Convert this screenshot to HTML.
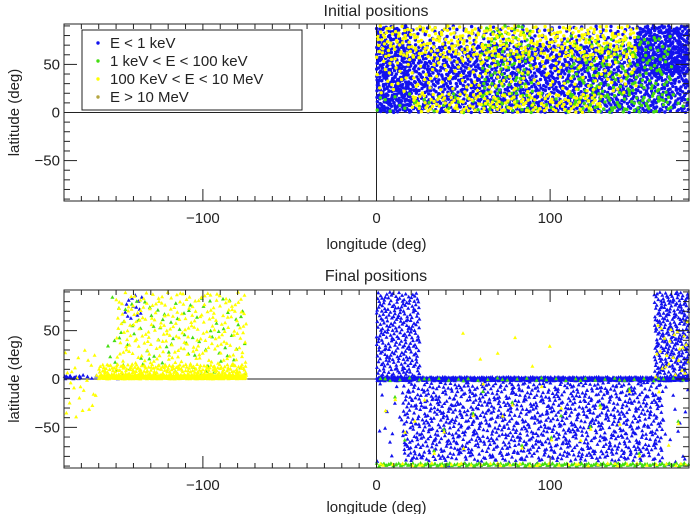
<!DOCTYPE html>
<html><head><meta charset="utf-8">
<style>
html,body{margin:0;padding:0;background:#fff;}
svg{display:block;font-family:"Liberation Sans",sans-serif;}
text{fill:#222;}
</style></head>
<body>
<svg id="chart" width="690" height="514" viewBox="0 0 690 514">
<text x="376" y="16" font-size="16" text-anchor="middle">Initial positions</text>
<text x="376" y="281" font-size="16" text-anchor="middle">Final positions</text>
<g id="top"></g>
<g id="bot"></g>
</svg>
<script>
// Series as density regions: [lonStart, lonEnd, latStart, latEnd, pointCount]
const seriesNames = ["E < 1 keV","1 keV < E < 100 keV","100 KeV < E < 10 MeV","E > 10 MeV"];
const seriesColors = ["#1212ee","#44dd11","#ffff00","#b5a642"];
const xTicks = [-100,0,100];
const yTicks = [-50,0,50];

const initBlue = [[0,180,0,70,1900],[0,180,70,90,200],[150,180,40,90,260],[0,20,0,90,180]];
const initGreen = [[60,90,0,90,110],[110,170,0,80,200],[0,180,0,20,70]];
const initYellow = [[0,150,55,90,380],[0,150,20,55,140],[20,130,0,20,160]];

const finBlue = [[0,25,0,90,260],[160,180,0,90,260],[0,180,-2,2,650],[15,165,-85,-3,1050],[0,180,-90,-3,150],[-180,-170,0,3,15],[-145,-135,60,88,14],[-180,-140,0,4,14]];
const finGreen = [[0,180,-90,-87,220],[-155,-75,0,85,90],[0,180,-2,1,40],[0,180,-80,-5,15]];
const finYellow = [[-160,-75,0,4,420],[-160,-75,4,15,200],[-150,-75,15,90,240],[-180,-160,-40,30,25],[0,180,-90,-87,40],[160,180,0,60,25],[0,180,-80,-5,25],[30,110,10,50,6]];

const NS="http://www.w3.org/2000/svg";
function mk(tag,attrs,parent){const e=document.createElementNS(NS,tag);for(const k in attrs)e.setAttribute(k,attrs[k]);parent.appendChild(e);return e;}
function halton(i,b){let f=1,r=0;while(i>0){f/=b;r+=f*(i%b);i=Math.floor(i/b);}return r;}

function makeAxes(g,top,bot,left,right,xlabelY){
  const xs=v=>left+(v+180)/360*(right-left);
  const ys=v=>(top+bot)/2-v/92*(bot-top)/2;
  let l=mk('line',{x1:left,x2:right,y1:ys(0),y2:ys(0),stroke:'#222','stroke-width':1},g);
  
  l=mk('line',{x1:xs(0),x2:xs(0),y1:top,y2:bot,stroke:'#222','stroke-width':1},g);
  
  return {xs,ys,finish(){
    const r=mk('rect',{x:left,y:top,width:right-left,height:bot-top,fill:'none',stroke:'#222','stroke-width':1},g);
    
    for(let v=-180;v<=180;v+=10){const len=v%100===0?12:5;
      mk('line',{x1:xs(v),x2:xs(v),y1:bot,y2:bot-len,stroke:'#222'},g);
      mk('line',{x1:xs(v),x2:xs(v),y1:top,y2:top+len,stroke:'#222'},g);}
    for(let v=-90;v<=90;v+=10){const len=v%50===0?13:6;
      mk('line',{x1:left,x2:left+len,y1:ys(v),y2:ys(v),stroke:'#222'},g);
      mk('line',{x1:right,x2:right-len,y1:ys(v),y2:ys(v),stroke:'#222'},g);}
    xTicks.forEach(v=>{const t=mk('text',{x:xs(v),y:bot+22,'font-size':15,'text-anchor':'middle'},g);t.textContent=v<0?'\u2212'+(-v):v;
      });
    yTicks.forEach(v=>{const t=mk('text',{x:left-4,y:ys(v)+5,'font-size':15,'text-anchor':'end'},g);t.textContent=v<0?'\u2212'+(-v):v;
      });
    let t=mk('text',{x:(left+right)/2,y:xlabelY,'font-size':15,'text-anchor':'middle'},g);t.textContent='longitude (deg)';
    
    const cy=(top+bot)/2;
    t=mk('text',{x:19,y:cy,'font-size':15,'text-anchor':'middle',transform:`rotate(-90 19 ${cy})`},g);t.textContent='latitude (deg)';
    
  }};
}

function drawSeries(g,ax,regions,color,shape,name,seed){
  const sg=mk('g',{fill:color},g);
  
  
  let idx=seed;
  regions.forEach(r=>{
    for(let i=0;i<r[4];i++){idx++;
      const lon=r[0]+(r[1]-r[0])*halton(idx,2), lat=r[2]+(r[3]-r[2])*halton(idx,3);
      const x=ax.xs(lon), y=ax.ys(lat);
      if(shape==='c') mk('circle',{cx:x.toFixed(1),cy:y.toFixed(1),r:1.7},sg);
      else mk('path',{d:`M${x.toFixed(1)} ${(y-2.2).toFixed(1)}l2 3.6h-4z`},sg);
    }});
}

const gt=document.getElementById('top'), gb=document.getElementById('bot');
const axT=makeAxes(gt,24,201,64,689,249);
drawSeries(gt,axT,initBlue,seriesColors[0],'c','initial-series-low',1);
drawSeries(gt,axT,initGreen,seriesColors[1],'c','initial-series-mid',5001);
drawSeries(gt,axT,initYellow,seriesColors[2],'c','initial-series-high',9001);
axT.finish();
const axB=makeAxes(gb,290,468,64,689,512);
drawSeries(gb,axB,finBlue,seriesColors[0],'t','final-series-low',1);
drawSeries(gb,axB,finGreen,seriesColors[1],'t','final-series-mid',5001);
drawSeries(gb,axB,finYellow,seriesColors[2],'t','final-series-high',9001);
axB.finish();

const lg=mk('g',{},gt);


mk('rect',{x:82,y:30,width:220,height:80,fill:'#fff',stroke:'#222'},lg);
seriesNames.forEach((n,i)=>{
  const y=43+i*18;
  const e=mk('g',{},lg);
  
  
  mk('circle',{cx:98,cy:y,r:1.7,fill:seriesColors[i]},e);
  const t=mk('text',{x:110,y:y+5,'font-size':15},e);t.textContent=n;
});
</script>
</body></html>
